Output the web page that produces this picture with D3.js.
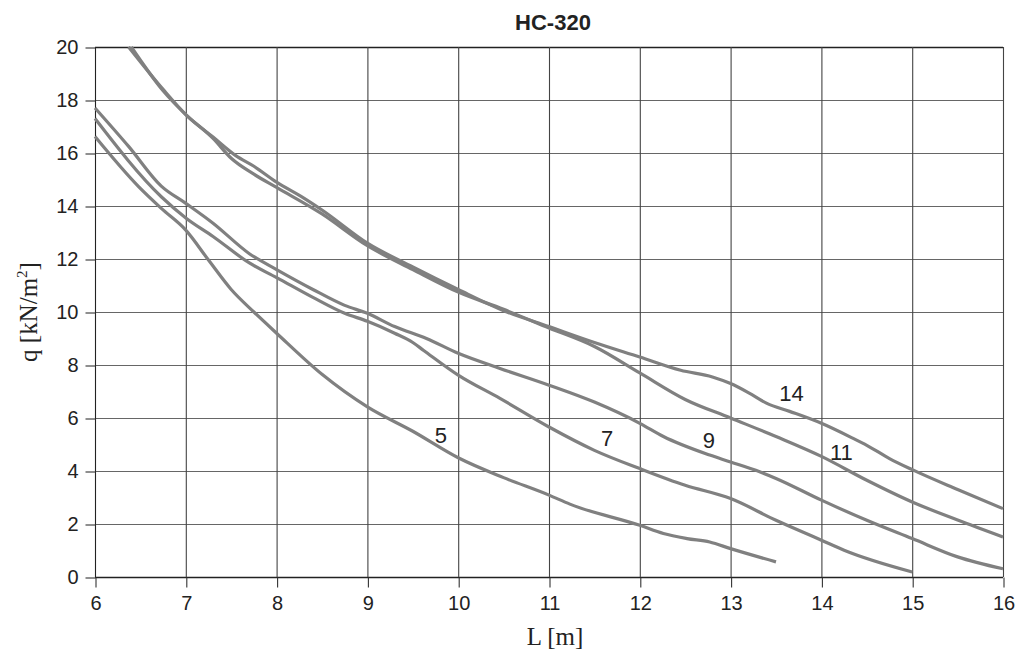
<!DOCTYPE html>
<html><head><meta charset="utf-8">
<script src="https://cdn.jsdelivr.net/npm/d3@7"></script>
<style>body{margin:0;background:#fff}</style>
</head><body>
<svg id="c" width="1020" height="652"></svg>
<script>
const title = "HC-320";
const xTicks = [6,7,8,9,10,11,12,13,14,15,16];
const yTicks = [0,2,4,6,8,10,12,14,16,18,20];
const seriesNames = ["5","7","9","11","14"];
const s5L = [6,6.48,6.73,7,7.25,7.5,7.75,8,8.5,9,9.5,10,10.5,11,11.23,12,12.26,12.52,12.77,13,13.5];
const s5q = [16.62,14.73,13.91,13.09,11.96,10.85,10.0,9.2,7.65,6.42,5.5,4.5,3.75,3.09,2.75,1.95,1.64,1.45,1.32,1.07,0.57];
const s7L = [6,6.73,7,7.3,7.7,8,8.4,8.75,9,9.3,9.5,9.62,10,10.46,11,11.5,12,12.5,13,13.5,14,14.25,15];
const s7q = [17.3,14.35,13.55,12.85,11.85,11.3,10.55,9.95,9.65,9.2,8.85,8.55,7.62,6.74,5.66,4.78,4.09,3.46,2.96,2.14,1.39,1.01,0.19];
const s9L = [6,6.37,6.73,7,7.3,7.7,8,8.4,8.75,9,9.3,9.65,10,10.46,11,11.5,12,12.26,12.77,13,13.32,13.5,14,14.5,15,15.5,16];
const s9q = [17.7,16.25,14.75,14.1,13.35,12.2,11.6,10.85,10.25,9.95,9.45,9.0,8.44,7.87,7.24,6.6,5.8,5.3,4.6,4.34,3.97,3.72,2.9,2.14,1.45,0.76,0.31];
const s11L = [6.4,6.75,7,7.3,7.5,7.75,8,8.5,9,9.5,10,10.5,11,11.5,12,12.5,13,13.5,14,14.5,15,15.5,16];
const s11q = [20,18.35,17.45,16.55,15.8,15.2,14.7,13.7,12.5,11.6,10.75,10.1,9.4,8.7,7.7,6.7,6.0,5.3,4.55,3.65,2.83,2.15,1.51];
const s14L = [6.37,6.75,7,7.3,7.55,7.75,8,8.3,8.5,9,9.5,10,10.5,11,11.5,12,12.45,12.8,13,13.2,13.4,13.65,14,14.35,14.5,14.75,15,15.5,16];
const s14q = [20,18.4,17.45,16.6,15.9,15.5,14.9,14.3,13.85,12.6,11.7,10.85,10.05,9.45,8.85,8.3,7.8,7.55,7.3,6.95,6.55,6.25,5.8,5.23,4.97,4.47,4.05,3.3,2.58];
const labelL = [9.81,11.64,12.76,14.22,13.67];
const labelQ = [5.35,5.24,5.16,4.71,6.94];

const series = [[s5L,s5q],[s7L,s7q],[s9L,s9q],[s11L,s11q],[s14L,s14q]];

const svg = d3.select("#c");
const m = {l:95, r:1003, t:47, b:577};
const x = d3.scaleLinear().domain([6,16]).range([m.l,m.r]);
const y = d3.scaleLinear().domain([0,20]).range([m.b,m.t]);

// grid
svg.append("g").selectAll("line").data(yTicks).join("line")
  .attr("x1",m.l).attr("x2",m.r).attr("y1",d=>y(d)+0.5).attr("y2",d=>y(d)+0.5)
  .attr("stroke",d=>d===0||d===20?"#222":"#666").attr("stroke-width",d=>d===0||d===20?1.3:1.1);
svg.append("g").selectAll("line").data(xTicks).join("line")
  .attr("y1",m.t).attr("y2",m.b).attr("x1",d=>x(d)+0.5).attr("x2",d=>x(d)+0.5)
  .attr("stroke",d=>d===6?"#222":"#444").attr("stroke-width",1.1);

// axes
const xa = svg.append("g").attr("transform",`translate(0.5,${m.b+0.5})`)
  .call(d3.axisBottom(x).tickValues(xTicks).tickSize(10).tickPadding(8).tickFormat(d3.format("d")));
const ya = svg.append("g").attr("transform",`translate(${m.l+0.5},0.5)`)
  .call(d3.axisLeft(y).tickValues(yTicks).tickSize(10).tickPadding(7).tickFormat(d3.format("d")));
[xa,ya].forEach(a=>{
  a.select(".domain").remove();
  a.selectAll(".tick line").attr("stroke","#333").attr("stroke-width",1.1);
  a.selectAll("text").attr("font-family","'Liberation Sans',Arial,sans-serif").attr("font-size",20).attr("fill","#222");
});

// lines
const line = d3.line().x(d=>x(d[0])).y(d=>y(d[1])).curve(d3.curveMonotoneX);
svg.append("g").selectAll("path").data(series).join("path")
  .attr("d",s=>line(s[0].map((L,i)=>[L,s[1][i]])))
  .attr("fill","none").attr("stroke","#808080").attr("stroke-width",3.2)
  .attr("stroke-linejoin","round");

// curve labels
svg.append("g").selectAll("text").data(seriesNames).join("text")
  .attr("x",(d,i)=>x(labelL[i])).attr("y",(d,i)=>y(labelQ[i]))
  .attr("text-anchor","middle").attr("dominant-baseline","central")
  .attr("font-family","'Liberation Sans',Arial,sans-serif").attr("font-size",22).attr("fill","#222")
  .text(d=>d);

// title
svg.append("text").attr("x",553).attr("y",30).attr("text-anchor","middle")
  .attr("font-family","'Liberation Sans',Arial,sans-serif").attr("font-weight","bold")
  .attr("font-size",22).attr("fill","#222").text(title);

// axis titles
svg.append("text").attr("x",555).attr("y",645).attr("text-anchor","middle")
  .attr("font-family","'Liberation Serif','Times New Roman',serif").attr("font-size",25).attr("fill","#222")
  .text("L [m]");
const yt = svg.append("text").attr("transform","translate(37,312) rotate(-90)").attr("text-anchor","middle")
  .attr("font-family","'Liberation Serif','Times New Roman',serif").attr("font-size",25).attr("fill","#222");
yt.append("tspan").text("q [kN/m");
yt.append("tspan").attr("font-size",15).attr("dy",-10).text("2");
yt.append("tspan").attr("dy",10).text("]");
</script>
</body></html>
